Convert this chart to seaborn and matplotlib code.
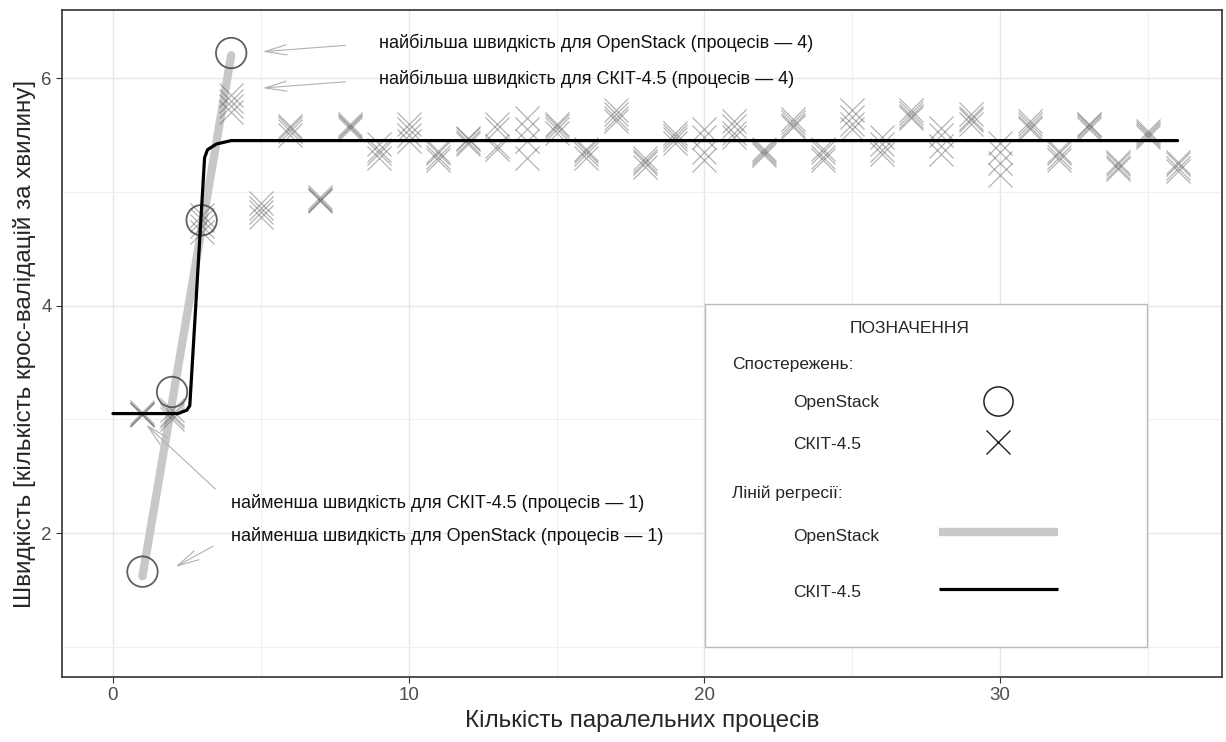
import warnings
warnings.filterwarnings("ignore")

import numpy as np
import pandas as pd
import matplotlib
matplotlib.use("Agg")
import matplotlib.pyplot as plt
from matplotlib.lines import Line2D
from matplotlib.patches import Rectangle
import seaborn as sns

# data
procs = list(range(1, 37))
# СКІТ-4.5 observations, four runs per number of processes
skit_run1 = [3.05, 3.00, 4.65, 5.70, 4.78, 5.50, 4.92, 5.55, 5.30, 5.45, 5.28, 5.42,
             5.38, 5.30, 5.52, 5.30, 5.62, 5.22, 5.43, 5.28, 5.48, 5.32, 5.57, 5.28,
             5.55, 5.33, 5.65, 5.33, 5.60, 5.15, 5.55, 5.28, 5.55, 5.20, 5.48, 5.18]
skit_run2 = [3.05, 3.03, 4.70, 5.75, 4.82, 5.53, 4.93, 5.57, 5.34, 5.50, 5.31, 5.44,
             5.40, 5.45, 5.55, 5.33, 5.65, 5.25, 5.46, 5.35, 5.52, 5.34, 5.59, 5.31,
             5.60, 5.37, 5.67, 5.40, 5.63, 5.25, 5.57, 5.31, 5.57, 5.22, 5.50, 5.21]
skit_run3 = [3.06, 3.05, 4.75, 5.80, 4.86, 5.56, 4.95, 5.60, 5.37, 5.55, 5.34, 5.46,
             5.55, 5.55, 5.58, 5.36, 5.68, 5.27, 5.49, 5.48, 5.58, 5.36, 5.61, 5.35,
             5.66, 5.42, 5.69, 5.50, 5.65, 5.35, 5.60, 5.34, 5.59, 5.24, 5.52, 5.24]
skit_run4 = [3.04, 3.08, 4.80, 5.85, 4.90, 5.58, 4.94, 5.58, 5.42, 5.60, 5.36, 5.47,
             5.60, 5.65, 5.60, 5.38, 5.72, 5.30, 5.52, 5.55, 5.62, 5.38, 5.64, 5.38,
             5.72, 5.48, 5.72, 5.56, 5.68, 5.43, 5.62, 5.36, 5.60, 5.26, 5.53, 5.26]

# OpenStack observations
openstack_procs = [1, 2, 3, 4]
openstack_speed = [1.66, 3.24, 4.75, 6.22]

# regression lines
openstack_fit_x = [1, 4]
openstack_fit_y = [1.62, 6.20]
skit_fit_x = [0, 2.2, 2.5, 2.6, 3.1, 3.2, 3.5, 4.0, 36]
skit_fit_y = [3.05, 3.05, 3.08, 3.12, 5.30, 5.37, 5.42, 5.45, 5.45]

sns.set_theme(style="whitegrid")
plt.rcParams['font.family'] = ['Liberation Sans', 'DejaVu Sans']

skit = pd.DataFrame({
    'procs': procs * 4,
    'speed': skit_run1 + skit_run2 + skit_run3 + skit_run4,
})
openstack = pd.DataFrame({'procs': openstack_procs, 'speed': openstack_speed})

fig = plt.figure(figsize=(12.26, 7.42), dpi=100)
ax = fig.add_axes([0.0506, 0.0876, 0.9461, 0.8989])

# OpenStack regression (thick light gray)
sns.lineplot(x=openstack_fit_x, y=openstack_fit_y, ax=ax, color='#c8c8c8', linewidth=6, zorder=2)

# observations
sns.scatterplot(data=skit, x='procs', y='speed', ax=ax, marker='x', s=300,
                color='#555555', alpha=0.45, linewidth=0.9, zorder=3)
sns.scatterplot(data=openstack, x='procs', y='speed', ax=ax, marker='o', s=480,
                color='#444444', zorder=4)
pts = ax.collections[-1]
pts.set_facecolor('none')
pts.set_edgecolor('#444444')
pts.set_linewidth(1.3)
pts.set_alpha(0.85)

# СКІТ-4.5 regression (black)
sns.lineplot(x=skit_fit_x, y=skit_fit_y, ax=ax, color='black', linewidth=2.3, zorder=5)

# annotations
fs = 13
arrow = dict(arrowstyle='->,head_length=1.2,head_width=0.28', color='#b0b0b0', lw=0.8)
ax.annotate('найбільша швидкість для OpenStack (процесів — 4)', xy=(4.97, 6.23),
            xytext=(9.0, 6.31), va='center', fontsize=fs, color='#111111',
            arrowprops=dict(arrow, relpos=(0, 0.5), shrinkA=22))
ax.annotate('найбільша швидкість для СКІТ-4.5 (процесів — 4)', xy=(4.97, 5.91),
            xytext=(9.0, 5.99), va='center', fontsize=fs, color='#111111',
            arrowprops=dict(arrow, relpos=(0, 0.5), shrinkA=22))
ax.annotate('найменша швидкість для СКІТ-4.5 (процесів — 1)', xy=(1.05, 2.97),
            xytext=(3.99, 2.26), va='center', fontsize=fs, color='#111111',
            arrowprops=dict(arrow, relpos=(0, 0.5), shrinkA=12))
ax.annotate('найменша швидкість для OpenStack (процесів — 1)', xy=(2.03, 1.69),
            xytext=(3.99, 1.97), va='center', fontsize=fs, color='#111111',
            arrowprops=dict(arrow, relpos=(0, 0.5), shrinkA=12))

# axes look (ggplot theme_bw like)
ax.set_xlim(-1.72, 37.5)
ax.set_ylim(0.734, 6.598)
ax.set_xticks([0, 10, 20, 30])
ax.set_xticks([5, 15, 25, 35], minor=True)
ax.set_yticks([2, 4, 6])
ax.set_yticks([1, 3, 5], minor=True)
ax.grid(which='major', color='#e6e6e6', linewidth=1.0)
ax.grid(which='minor', color='#f0f0f0', linewidth=0.8)
ax.tick_params(which='major', length=4, width=0.8, color='#333333', labelsize=13.5,
               labelcolor='#4d4d4d', bottom=True, left=True)
ax.tick_params(which='minor', length=0)
for sp in ax.spines.values():
    sp.set_color('#333333')
    sp.set_linewidth(1.2)
ax.set_xlabel('Кількість паралельних процесів', fontsize=17.5, labelpad=4)
ax.set_ylabel('Швидкість [кількість крос-валідацій за хвилину]', fontsize=17.5, labelpad=4)

# legend box drawn by hand
lfs = 12.5
T = ax.transAxes
ax.add_patch(Rectangle((0.554, 0.045), 0.381, 0.514, transform=T, facecolor='white',
                       edgecolor='#bbbbbb', linewidth=1.0, zorder=6))
ax.text(0.731, 0.522, 'ПОЗНАЧЕННЯ', transform=T, ha='center', va='center', fontsize=lfs, zorder=7)
ax.text(0.578, 0.468, 'Спостережень:', transform=T, va='center', fontsize=lfs, zorder=7)
ax.text(0.630, 0.411, 'OpenStack', transform=T, va='center', fontsize=lfs, zorder=7)
ax.text(0.630, 0.349, 'СКІТ-4.5', transform=T, va='center', fontsize=lfs, zorder=7)
ax.text(0.578, 0.276, 'Ліній регресії:', transform=T, va='center', fontsize=lfs, zorder=7)
ax.text(0.630, 0.211, 'OpenStack', transform=T, va='center', fontsize=lfs, zorder=7)
ax.text(0.630, 0.126, 'СКІТ-4.5', transform=T, va='center', fontsize=lfs, zorder=7)
ax.add_line(Line2D([0.807], [0.414], transform=T, marker='o', markersize=21, markerfacecolor='none',
                   markeredgecolor='#222222', markeredgewidth=1.1, linestyle='none', zorder=7))
ax.add_line(Line2D([0.807], [0.352], transform=T, marker='x', markersize=17,
                   markeredgecolor='#222222', markeredgewidth=1.0, linestyle='none', zorder=7))
ax.add_line(Line2D([0.756, 0.859], [0.217, 0.217], transform=T, color='#c8c8c8',
                   linewidth=6, solid_capstyle='butt', zorder=7))
ax.add_line(Line2D([0.756, 0.859], [0.132, 0.132], transform=T, color='black',
                   linewidth=2.3, solid_capstyle='butt', zorder=7))

fig.savefig('out.png', dpi=100)
